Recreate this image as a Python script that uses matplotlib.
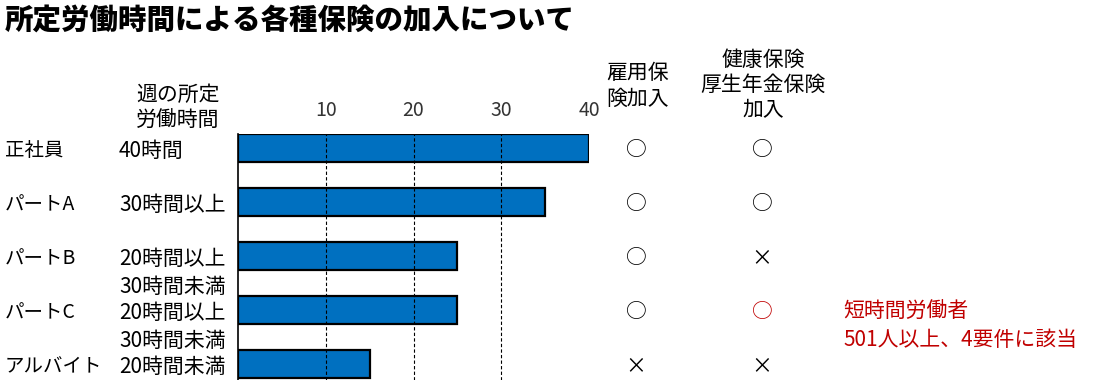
import matplotlib
matplotlib.use("Agg")
import matplotlib.pyplot as plt
import matplotlib.transforms as mtransforms

plt.rcParams["font.family"] = ["Noto Sans CJK JP", "DejaVu Sans"]

title = "所定労働時間による各種保険の加入について"
categories = ["正社員", "パートA", "パートB", "パートC", "アルバイト"]
hours_labels = [["40時間"], ["30時間以上"], ["20時間以上", "30時間未満"], ["20時間以上", "30時間未満"], ["20時間未満"]]
hours = [40, 35, 25, 25, 15]
xticks = [10, 20, 30, 40]
employment_ins = ["○", "○", "○", "○", "×"]
health_ins = ["○", "○", "×", "○", "×"]
health_highlight = [False, False, False, True, False]
note_lines = ["短時間労働者", "501人以上、4要件に該当"]

W, H = 1101, 380
fig = plt.figure(figsize=(W / 100, H / 100), dpi=100)


def fx(px):
    return px / W


def fy(py):
    return 1 - py / H


ax = fig.add_axes([fx(238), 0, fx(589) - fx(238), fy(134)])
ypos = list(range(len(categories)))
ax.barh(ypos, hours, height=0.52, color="#0070C0", edgecolor="black", linewidth=1.6, zorder=2)
for t in xticks[:-1]:
    ax.axvline(t, color="black", linestyle=(0, (3, 2)), linewidth=0.8, zorder=3)
ax.set_xlim(0, 40)
ax.set_ylim(4.30, -0.26)
ax.xaxis.tick_top()
ax.set_xticks(xticks)
ax.set_xticklabels([str(t) for t in xticks], fontsize=14, color="#333333")
ax.tick_params(axis="x", length=0, pad=9)
ax.set_yticks([])
for side in ["top", "right", "bottom"]:
    ax.spines[side].set_visible(False)
ax.spines["left"].set_linewidth(1.2)

tr = mtransforms.blended_transform_factory(fig.transFigure, ax.transData)
for i, name in enumerate(categories):
    fig.text(fx(5), i + 0.05, name, transform=tr, fontsize=14, va="center", ha="left")
    for k, line in enumerate(hours_labels[i]):
        fig.text(fx(119), i + 0.05 + 0.52 * k, line, transform=tr, fontsize=15, va="center", ha="left")
    fig.text(fx(636), i + 0.04, employment_ins[i], transform=tr, fontsize=15, va="center", ha="center")
    fig.text(fx(762), i + 0.04, health_ins[i], transform=tr, fontsize=15, va="center", ha="center",
             color="#C00000" if health_highlight[i] else "black")

fig.text(fx(5), fy(20), title, fontsize=20.5, fontweight="heavy", va="center", ha="left")
fig.text(fx(178), fy(108), "週の所定\n労働時間", fontsize=15, va="center", ha="center", linespacing=1.2)
fig.text(fx(638), fy(86), "雇用保\n険加入", fontsize=15, va="center", ha="center", linespacing=1.2)
fig.text(fx(763), fy(85), "健康保険\n厚生年金保険\n加入", fontsize=15, va="center", ha="center", linespacing=1.2)
fig.text(fx(843), 3.04, note_lines[0], transform=tr, fontsize=15, va="center", ha="left", color="#C00000")
fig.text(fx(843), 3.56, note_lines[1], transform=tr, fontsize=15, va="center", ha="left", color="#C00000")

fig.savefig("out.png", dpi=100)
